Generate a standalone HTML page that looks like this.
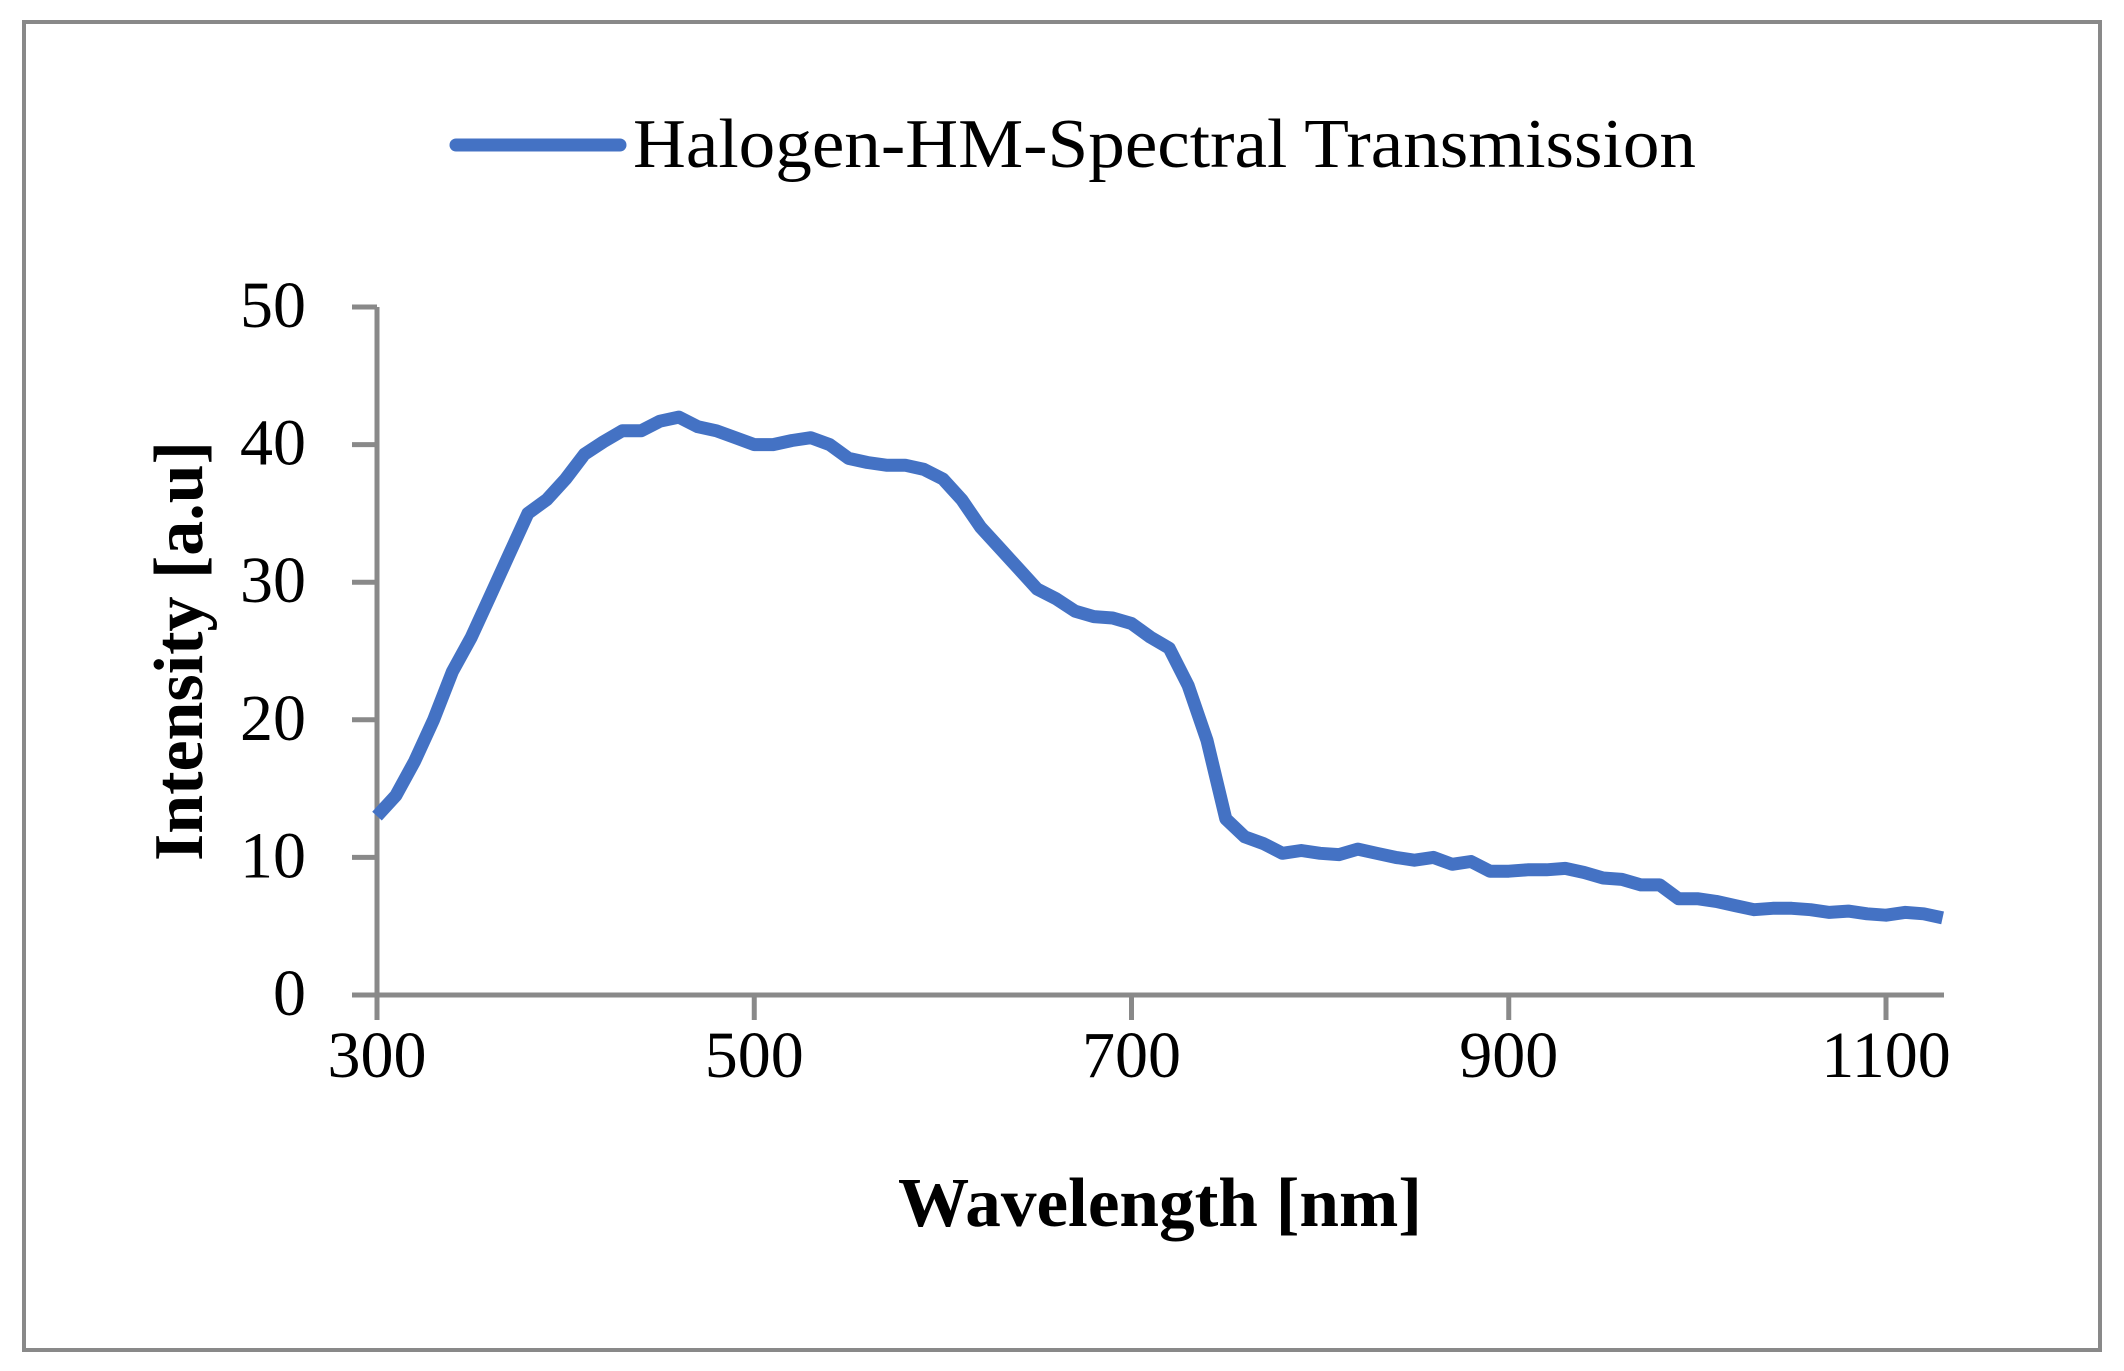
<!DOCTYPE html>
<html><head><meta charset="utf-8"><style>
html,body{margin:0;padding:0;background:#fff;width:2124px;height:1371px;overflow:hidden}
svg text{font-family:"Liberation Serif",serif;fill:#000}
</style></head><body>
<svg width="2124" height="1371">
<rect x="24" y="22" width="2076" height="1328" fill="#fff" stroke="#898989" stroke-width="4"/>
<g id="axes"></g>
<path id="series" fill="none" stroke="#4472C4" stroke-width="13" stroke-linejoin="round" stroke-linecap="butt"/>
<g>
<line x1="456" y1="145" x2="620" y2="145" stroke="#4472C4" stroke-width="13" stroke-linecap="round"/>
<text x="633" y="167" font-size="70" textLength="1063" lengthAdjust="spacingAndGlyphs">Halogen-HM-Spectral Transmission</text>
</g>
<text x="1160" y="1226" font-size="70" font-weight="bold" text-anchor="middle" textLength="524" lengthAdjust="spacingAndGlyphs">Wavelength [nm]</text>
<text transform="translate(202,651) rotate(-90)" font-size="70" font-weight="bold" text-anchor="middle" textLength="420" lengthAdjust="spacingAndGlyphs">Intensity [a.u]</text>
</svg>
<script>
const wavelengths=[300,310,320,330,340,350,360,370,380,390,400,410,420,430,440,450,460,470,480,490,500,510,520,530,540,550,560,570,580,590,600,610,620,630,640,650,660,670,680,690,700,710,720,730,740,750,760,770,780,790,800,810,820,830,840,850,860,870,880,890,900,910,920,930,940,950,960,970,980,990,1000,1010,1020,1030,1040,1050,1060,1070,1080,1090,1100,1110,1120,1130];
const intensity=[13,14.5,17,20,23.5,26,29,32,35,36,37.5,39.3,40.2,41,41,41.7,42,41.3,41,40.5,40,40,40.3,40.5,40,39,38.7,38.5,38.5,38.2,37.5,36,34,32.5,31,29.5,28.8,27.9,27.5,27.4,27,26,25.2,22.5,18.5,12.8,11.5,11,10.3,10.5,10.3,10.2,10.6,10.3,10,9.8,10,9.5,9.7,9,9,9.1,9.1,9.2,8.9,8.5,8.4,8,8,7,7,6.8,6.5,6.2,6.3,6.3,6.2,6.0,6.1,5.9,5.8,6.0,5.9,5.6];
const xTicks=[300,500,700,900,1100];
const yTicks=[0,10,20,30,40,50];
const X=v=>377+(v-300)*(1886-377)/800;
const Y=v=>995-v*(995-307)/50;
const ns="http://www.w3.org/2000/svg";
const axes=document.getElementById('axes');
function ln(x1,y1,x2,y2,name){const l=document.createElementNS(ns,'line');
l.setAttribute('x1',x1);l.setAttribute('y1',y1);l.setAttribute('x2',x2);l.setAttribute('y2',y2);
l.setAttribute('stroke','#898989');l.setAttribute('stroke-width','5');


axes.appendChild(l);}
function tx(x,y,s,anchor,name){const t=document.createElementNS(ns,'text');
t.setAttribute('x',x);t.setAttribute('y',y);t.setAttribute('font-size','66');t.setAttribute('text-anchor',anchor);t.textContent=s;


axes.appendChild(t);}
ln(352,995,1944,995,'x-axis');
ln(377,Y(50),377,1020,'y-axis');
xTicks.forEach(v=>{ln(X(v),995,X(v),1020,'x-tick');tx(X(v),1077,String(v),'middle','x-tick-label');});
yTicks.forEach(v=>{ln(352,Y(v),377,Y(v),'y-tick');tx(306,Y(v)+20,String(v),'end','y-tick-label');});
document.getElementById('series').setAttribute('d',wavelengths.map((w,i)=>(i?'L':'M')+X(w).toFixed(1)+','+Y(intensity[i]).toFixed(1)).join(''));
</script>
</body></html>
